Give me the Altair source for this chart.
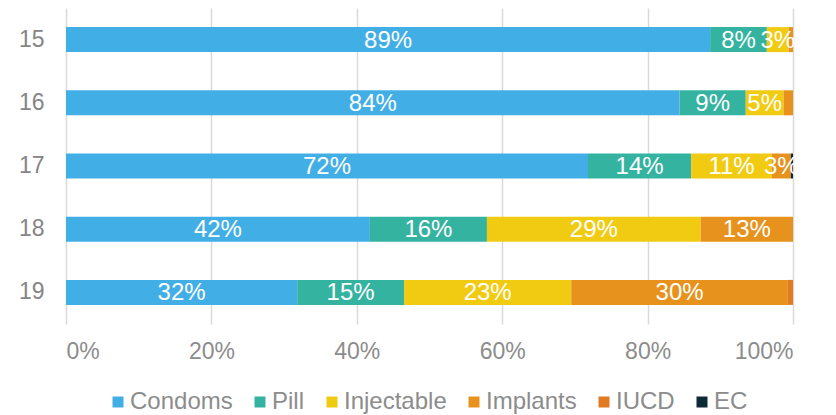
import altair as alt
import pandas as pd

ages = ["15", "16", "17", "18", "19"]
methods = ["Condoms", "Pill", "Injectable", "Implants", "IUCD", "EC"]
colors = ["#42AEE6", "#35B3A1", "#F0CB12", "#E6921D", "#E07B22", "#0C2B36"]

condoms = [88.6, 84.4, 71.8, 41.8, 31.8]
pill = [7.8, 9.1, 14.2, 16.1, 14.7]
injectable = [3.0, 5.2, 11.1, 29.4, 23.0]
implants = [0.6, 1.3, 2.6, 12.7, 29.8]
iucd = [0.0, 0.0, 0.0, 0.0, 0.7]
ec = [0.0, 0.0, 0.3, 0.0, 0.0]

series = [condoms, pill, injectable, implants, iucd, ec]
rows = []
for mi, (m, vals) in enumerate(zip(methods, series)):
    for a, v in zip(ages, vals):
        rows.append({"age": a, "method": m, "order": mi, "value": v})
df = pd.DataFrame(rows)

font = "Liberation Sans"

base = alt.Chart(df).transform_stack(
    stack="value", groupby=["age"], as_=["x0", "x1"],
    sort=[alt.SortField("order", order="ascending")]
)

bars = base.mark_bar(size=25).encode(
    y=alt.Y("age:N", sort=ages, title=None,
            scale=alt.Scale(paddingInner=0.6, paddingOuter=0.3),
            axis=alt.Axis(domain=False, ticks=False, labelFontSize=23,
                          labelColor="#858585", labelPadding=22, labelFont=font)),
    x=alt.X("x0:Q", title=None,
            scale=alt.Scale(domain=[0, 100], nice=False),
            axis=alt.Axis(values=[0, 20, 40, 60, 80, 100],
                          labelExpr="datum.value + '%'",
                          domain=False, ticks=False, grid=True,
                          gridColor="#d9d9d9", gridWidth=1.5,
                          labelFontSize=23, labelColor="#8c8c8c",
                          labelPadding=16, labelFont=font)),
    x2="x1:Q",
    color=alt.Color("method:N", sort=methods,
                    scale=alt.Scale(domain=methods, range=colors),
                    legend=alt.Legend(title=None, orient="none",
                                      legendX=40, legendY=382,
                                      direction="horizontal", padding=0,
                                      symbolType="square", symbolSize=121,
                                      symbolStrokeWidth=0,
                                      labelFontSize=24, labelColor="#8c8c8c",
                                      labelFont=font, columnPadding=15,
                                      symbolOffset=0, labelOffset=0)),
    order=alt.Order("order:Q"),
)

labels = base.transform_filter("datum.value >= 2.5").transform_calculate(
    mid="(datum.x0 + datum.x1) / 2",
    lab="format(round(datum.value), 'd') + '%'",
).mark_text(color="white", fontSize=24, font=font, baseline="middle", dy=1).encode(
    y=alt.Y("age:N", sort=ages),
    x=alt.X("mid:Q"),
    text="lab:N",
)

chart = (bars + labels).properties(
    width=727, height=316,
    padding={"left": 58, "top": 0, "right": 30, "bottom": 90},
    autosize=alt.AutoSizeParams(type="none"),
).configure_view(stroke=None)

chart.save("out.html", embed_options={"renderer": "svg", "actions": False})
